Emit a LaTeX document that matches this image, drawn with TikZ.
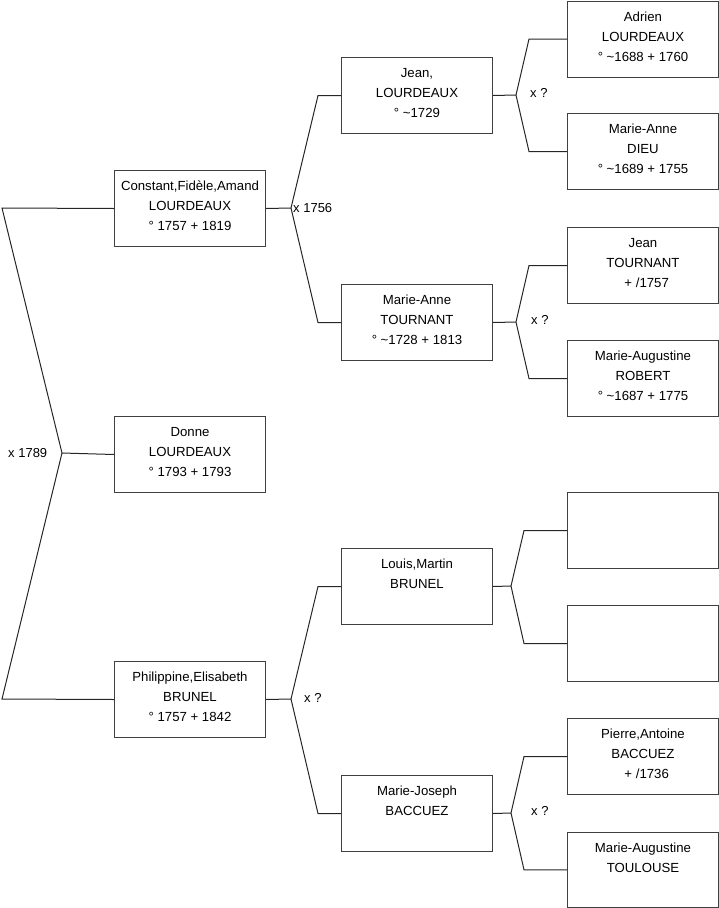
\documentclass[tikz,border=0pt]{standalone}
\usepackage{fontspec}
\setmainfont{Liberation Sans}
\begin{document}
\begin{tikzpicture}[x=1pt,y=-1pt,
  box/.style={draw=black!75, line width=1pt, minimum width=151pt, minimum height=76pt, inner sep=0pt, anchor=north west},
  txt/.style={anchor=north, align=center, inner sep=0pt, font=\fontsize{13.2}{20}\selectfont},
  link/.style={line width=1pt, draw=black!85},
  lbl/.style={inner sep=0pt, anchor=west, font=\fontsize{13}{15}\selectfont}]
\useasboundingbox (0,0) rectangle (719,908);

% boxes
\node[box] (c1) at (114,170) {};
\node[box] (d1) at (114,416) {};
\node[box] (p1) at (114,661) {};
\node[box] (j2) at (341,57) {};
\node[box] (t2) at (341,284) {};
\node[box] (l2) at (341,548) {};
\node[box] (m2) at (341,775) {};
\node[box] (a3) at (567,0.5) {};
\node[box] (d3) at (567,113) {};
\node[box] (jt3) at (567,227) {};
\node[box] (r3) at (567,340) {};
\node[box] (e1) at (567,492) {};
\node[box] (e2) at (567,605) {};
\node[box] (b3) at (567,718) {};
\node[box, minimum height=74.5pt] (tl3) at (567,832) {};

% texts
\node[txt] (c1t) at ([yshift=-11pt]c1.north) {Constant,Fidèle,Amand\\LOURDEAUX\\° 1757 + 1819};
\node[txt] (d1t) at ([yshift=-11pt]d1.north) {Donne\\LOURDEAUX\\° 1793 + 1793};
\node[txt] (p1t) at ([yshift=-11pt]p1.north) {Philippine,Elisabeth\\BRUNEL\\° 1757 + 1842};
\node[txt] (j2t) at ([yshift=-11pt]j2.north) {Jean,\\LOURDEAUX\\° \textasciitilde1729};
\node[txt] (t2t) at ([yshift=-11pt]t2.north) {Marie-Anne\\TOURNANT\\° \textasciitilde1728 + 1813};
\node[txt] (l2t) at ([yshift=-11pt]l2.north) {Louis,Martin\\BRUNEL};
\node[txt] (m2t) at ([yshift=-11pt]m2.north) {Marie-Joseph\\BACCUEZ};
\node[txt] (a3t) at ([yshift=-11pt]a3.north) {Adrien\\LOURDEAUX\\° \textasciitilde1688 + 1760};
\node[txt] (d3t) at ([yshift=-11pt]d3.north) {Marie-Anne\\DIEU\\° \textasciitilde1689 + 1755};
\node[txt] (jt3t) at ([yshift=-11pt]jt3.north) {Jean\\TOURNANT\\\ \ + /1757};
\node[txt] (r3t) at ([yshift=-11pt]r3.north) {Marie-Augustine\\ROBERT\\° \textasciitilde1687 + 1775};
\node[txt] (b3t) at ([yshift=-11pt]b3.north) {Pierre,Antoine\\BACCUEZ\\\ \ + /1736};
\node[txt] (tl3t) at ([yshift=-11pt]tl3.north) {Marie-Augustine\\TOULOUSE};

% forks
\coordinate (tl0) at (2,208);
\coordinate (bl0) at (2,699);
\coordinate (f0) at (62,453);
\coordinate (f1) at (291,208);
\coordinate (f1b) at (291,699);
\coordinate (f2) at (516,95);
\coordinate (f3) at (516,322);
\coordinate (f4) at (511,586);
\coordinate (f5) at (511,813);

\draw[link] (c1.west) -- (tl0) -- (f0) -- (bl0) -- (p1.west);
\draw[link] (f0) -- (d1.west);

\draw[link] (c1.east) -- (f1);
\draw[link] (j2.west) -- ++(-23,0) -- (f1) -- ([xshift=-23pt]t2.west) -- (t2.west);
\draw[link] (p1.east) -- (f1b);
\draw[link] (l2.west) -- ++(-23,0) -- (f1b) -- ([xshift=-23pt]m2.west) -- (m2.west);

\draw[link] (j2.east) -- (f2);
\draw[link] (a3.west) -- ++(-38,0) -- (f2) -- ([xshift=-38pt]d3.west) -- (d3.west);
\draw[link] (t2.east) -- (f3);
\draw[link] (jt3.west) -- ++(-38,0) -- (f3) -- ([xshift=-38pt]r3.west) -- (r3.west);
\draw[link] (l2.east) -- (f4);
\draw[link] (e1.west) -- ++(-43,0) -- (f4) -- ([xshift=-43pt]e2.west) -- (e2.west);
\draw[link] (m2.east) -- (f5);
\draw[link] (b3.west) -- ++(-43,0) -- (f5) -- ([xshift=-43pt]tl3.west) -- (tl3.west);

% labels
\node[lbl] (x0) at (8,453) {x 1789};
\node[lbl] (x1) at (293,208) {x 1756};
\node[lbl] (x2) at (530,93) {x ?};
\node[lbl] (x3) at (531,320) {x ?};
\node[lbl] (x4) at (304,698) {x ?};
\node[lbl] (x5) at (531,811) {x ?};
\end{tikzpicture}
\end{document}
